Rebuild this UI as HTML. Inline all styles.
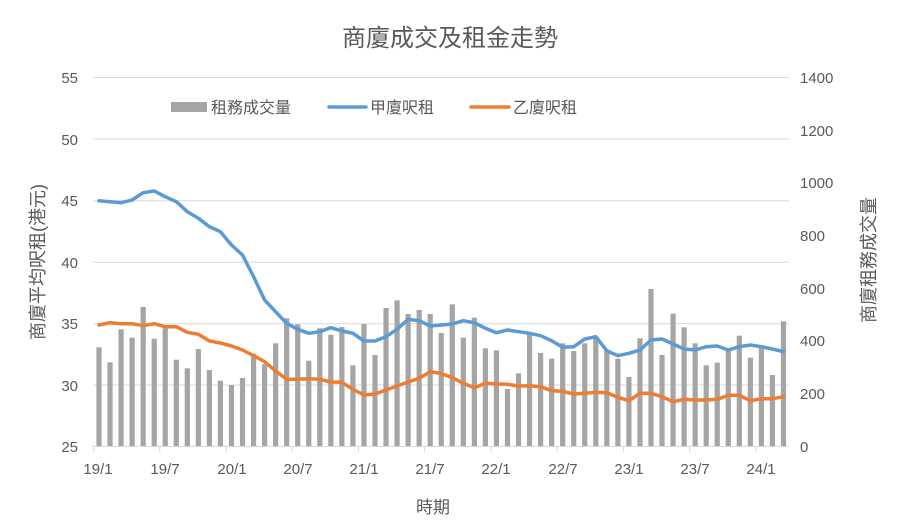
<!DOCTYPE html>
<html><head><meta charset="utf-8"><style>
html,body{margin:0;padding:0;background:#fff}
svg{display:block}
text{font-family:"Liberation Sans","Noto Sans CJK TC",sans-serif;fill:#595959}
</style></head><body>
<svg id="s" width="901" height="526" viewBox="0 0 901 526">
<rect width="901" height="526" fill="#fff"/>
<text x="450" y="46" font-size="24" text-anchor="middle">商廈成交及租金走勢</text>
<g stroke="#d9d9d9" stroke-width="1">
<line x1="93" x2="789" y1="77.5" y2="77.5"/><line x1="93" x2="789" y1="139" y2="139"/>
<line x1="93" x2="789" y1="200.7" y2="200.7"/><line x1="93" x2="789" y1="262.3" y2="262.3"/>
<line x1="93" x2="789" y1="323.7" y2="323.7"/><line x1="93" x2="789" y1="385" y2="385"/>
</g>
<g font-size="15" text-anchor="end">
<text x="78" y="83">55</text><text x="78" y="145">50</text><text x="78" y="206">45</text>
<text x="78" y="268">40</text><text x="78" y="329">35</text><text x="78" y="391">30</text><text x="78" y="452">25</text>
</g>
<g font-size="15" text-anchor="start">
<text x="800" y="83">1400</text><text x="800" y="136">1200</text><text x="800" y="188">1000</text>
<text x="800" y="241">800</text><text x="800" y="294">600</text><text x="800" y="346">400</text>
<text x="800" y="399">200</text><text x="800" y="452">0</text>
</g>
<g id="bars" fill="#a5a5a5"></g>
<line x1="93" x2="789" y1="446.5" y2="446.5" stroke="#d9d9d9"/>
<g id="ticks" stroke="#d9d9d9"></g>
<polyline id="blue" fill="none" stroke="#5b9bd5" stroke-width="3.5" stroke-linejoin="round" stroke-linecap="round"/>
<polyline id="orange" fill="none" stroke="#ed7d31" stroke-width="3.5" stroke-linejoin="round" stroke-linecap="round"/>
<g font-size="15" text-anchor="middle">
<text x="98" y="474">19/1</text><text x="165" y="474">19/7</text><text x="232" y="474">20/1</text>
<text x="298" y="474">20/7</text><text x="364" y="474">21/1</text><text x="430" y="474">21/7</text>
<text x="496" y="474">22/1</text><text x="563" y="474">22/7</text><text x="629" y="474">23/1</text>
<text x="695" y="474">23/7</text><text x="761" y="474">24/1</text>
</g>
<text x="433" y="513" font-size="17" text-anchor="middle">時期</text>
<text transform="translate(44,262) rotate(-90)" font-size="18" text-anchor="middle">商廈平均呎租(港元)</text>
<text transform="translate(875,260) rotate(-90)" font-size="18" text-anchor="middle">商廈租務成交量</text>
<rect x="171" y="102" width="36" height="10" fill="#a5a5a5"/>
<text x="211" y="113" font-size="16">租務成交量</text>
<line x1="329" x2="366" y1="107" y2="107" stroke="#5b9bd5" stroke-width="3.5" stroke-linecap="round"/>
<text x="370" y="113" font-size="16">甲廈呎租</text>
<line x1="471" x2="509" y1="107" y2="107" stroke="#ed7d31" stroke-width="3.5" stroke-linecap="round"/>
<text x="513" y="113" font-size="16">乙廈呎租</text>
</svg>
<script>
var bt=[347.3,362.3,329.3,337.7,307,338.7,328.3,359.7,368.3,349,370,380.7,385,378,353.7,364.3,343.3,318.3,324.3,360.7,328.3,334.7,327,365.3,324,355,308,300.3,314,310,314,333,304.3,337.7,317.7,348.3,350.3,389,373.3,333.3,353,358.7,343.3,351,343.3,336.7,350,358.7,377,338.3,289,355,313.7,327.3,343.3,365.3,362.7,350,335.7,357.7,347.7,375,321.3];
var bl=[200.7,201.7,202.7,200,192.7,191,196.7,201.7,211.7,218.3,226.7,231.7,245,255,276.7,300,311.7,323.3,329.3,333.3,331.7,327.7,331,333.3,341,341,336.7,329.3,319.3,320.7,326,325,324,320.7,322.7,328.3,332.7,330,331.7,333.3,335.7,340.7,347.3,346.7,339,336.7,350.7,355.7,353.3,350,340,339,344,349,350,346.7,346,350,346.7,345,346.7,349,351.7];
var or=[325,322.7,323.7,323.7,325.7,323.7,326.7,326.7,332.3,334.3,341,343,346,350,355.7,361.7,371,379.3,379.3,378.7,379.3,382,382.3,389.3,395,394,390,386,382,378.3,371.7,373.5,377.7,383.3,387.7,383.3,384,384.3,386,385.7,386.7,390.7,391.3,394,393.3,392.3,392.7,397.3,400.7,393.3,393.3,396.7,401.7,399.3,400,400,399.3,395.3,395.3,400.7,398.7,398.7,396.7];
var ns="http://www.w3.org/2000/svg",g=document.getElementById('bars'),t=document.getElementById('ticks');
var pb=[],po=[];
for(var i=0;i<63;i++){var cx=99+i*11.04;
var r=document.createElementNS(ns,'rect');r.setAttribute('x',cx-2.6);r.setAttribute('y',bt[i]);r.setAttribute('width',5.2);r.setAttribute('height',446.5-bt[i]);g.appendChild(r);
pb.push(cx.toFixed(1)+','+bl[i]);po.push(cx.toFixed(1)+','+or[i]);}
for(var k=0;k<=10;k++){var x=93.5+k*6*11.04;var l=document.createElementNS(ns,'line');l.setAttribute('x1',x);l.setAttribute('x2',x);l.setAttribute('y1',446.5);l.setAttribute('y2',452);t.appendChild(l);}
document.getElementById('blue').setAttribute('points',pb.join(' '));
document.getElementById('orange').setAttribute('points',po.join(' '));
</script>
</body></html>
